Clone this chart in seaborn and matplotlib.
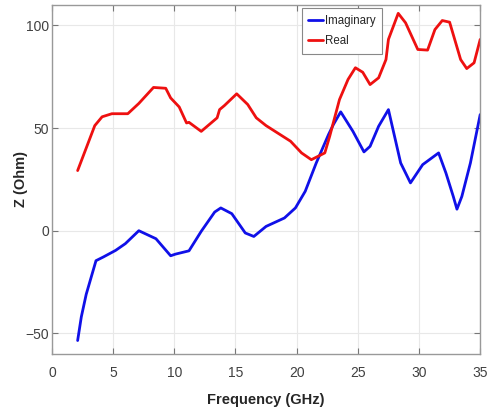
import pandas as pd
import matplotlib
matplotlib.use("Agg")
import matplotlib.pyplot as plt
import seaborn as sns

# Values
freq_imag = [2.1, 2.4, 2.8, 3.6, 4.2, 5.2, 6.0, 7.1, 8.5, 9.7, 10.1, 11.2, 12.2, 13.3, 13.8,
             14.7, 15.8, 16.5, 17.5, 19.0, 19.9, 20.7, 21.6, 22.6, 23.0, 23.6, 24.6, 25.5,
             26.0, 26.7, 27.5, 28.5, 29.3, 30.3, 31.6, 32.2, 32.8, 33.1, 33.5, 34.2, 35.0]
imag = [-53.5, -42, -31, -14.6, -12.8, -9.6, -6.3, 0, -3.9, -12.2, -11.4, -9.8, -0.3, 9.1, 11.1,
        8.3, -1.1, -2.8, 2.1, 6.2, 11.1, 19.2, 33, 46.8, 51.7, 57.9, 48.4, 38.4,
        41.1, 50.9, 59, 33, 23.3, 32.2, 37.9, 28.1, 16.7, 10.5, 16.7, 33, 56.6]

freq_real = [2.1, 3.5, 4.1, 4.9, 6.2, 7.1, 8.3, 9.3, 9.7, 10.4, 11.0, 11.2, 12.2, 13.5, 13.7,
             14.1, 15.1, 16.0, 16.7, 17.5, 19.5, 20.4, 21.2, 22.3, 22.7, 23.5, 24.2, 24.8,
             25.4, 26.0, 26.7, 27.3, 27.5, 28.3, 28.9, 29.9, 30.7, 31.3, 31.9, 32.5, 33.4,
             33.9, 34.5, 35.0]
real = [29.3, 51.2, 55.5, 57, 57, 62, 69.8, 69.4, 64.7, 60.3, 52.5, 52.8, 48.4, 55, 59,
        61, 66.7, 61.5, 55, 51.2, 43.6, 37.9, 34.6, 37.9, 46, 63.9, 73.7, 79.4,
        77.2, 71.2, 74.5, 83.4, 93.2, 105.9, 101.3, 88.3, 88, 98, 102.4, 101.6, 83.4,
        79, 81.8, 93.2]

df = pd.concat([
    pd.DataFrame({"Frequency": freq_imag, "Z": imag, "Part": "Imaginary"}),
    pd.DataFrame({"Frequency": freq_real, "Z": real, "Part": "Real"}),
])

sns.set_style("whitegrid")
plt.rcParams["font.family"] = ["Liberation Sans Narrow", "Liberation Sans", "DejaVu Sans"]

fig = plt.figure(figsize=(4.9, 4.11), dpi=100)
ax = fig.add_axes([0.106, 0.139, 0.874, 0.849])

sns.lineplot(data=df, x="Frequency", y="Z", hue="Part", palette={"Imaginary": "#1010e8", "Real": "#ee1010"},
             estimator=None, sort=False, linewidth=2.0, ax=ax)

ax.set_xlim(0, 35)
ax.set_ylim(-60, 110)
ax.set_xticks(range(0, 36, 5))
ax.set_yticks([-50, 0, 50, 100])
ax.grid(True, color="#e8e8e8", linewidth=0.8)
for s in ax.spines.values():
    s.set_visible(True)
    s.set_color("#999999")
    s.set_linewidth(1.0)
ax.tick_params(direction="in", length=4, color="#777777", labelcolor="#404040", labelsize=10,
               top=True, right=True, bottom=True, left=True)
ax.tick_params(axis="x", pad=9)
ax.tick_params(axis="y", pad=2)
ax.set_xlabel("Frequency (GHz)", fontsize=10.5, fontweight="bold", color="#262626",
              family=["Liberation Sans", "DejaVu Sans"])
ax.set_ylabel("Z (Ohm)", fontsize=10.5, fontweight="bold", color="#262626",
              family=["Liberation Sans", "DejaVu Sans"])
ax.xaxis.set_label_coords(0.5, -0.112)
ax.yaxis.set_label_coords(-0.057, 0.5)

leg = ax.legend(loc="upper left", bbox_to_anchor=(0.584, 0.99), fontsize=8.3, frameon=True,
                fancybox=False, edgecolor="#888888", handlelength=1.3, handletextpad=0.15,
                borderpad=0.55, labelspacing=0.75, borderaxespad=0, framealpha=1)
leg.set_title(None)
leg.get_frame().set_linewidth(0.8)

fig.savefig("out.png", dpi=100)
